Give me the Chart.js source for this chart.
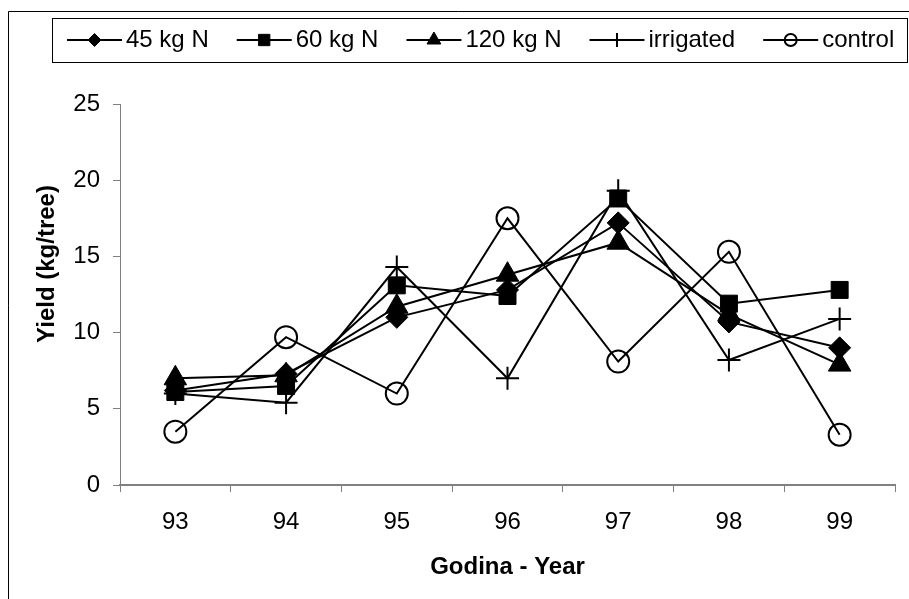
<!DOCTYPE html>
<html>
<head>
<meta charset="utf-8">
<script src="https://cdn.jsdelivr.net/npm/chart.js@4/dist/chart.umd.min.js"></script>
<style>
  html, body { margin: 0; padding: 0; background: #fff; }
  #wrap { width: 909px; height: 599px; }
</style>
</head>
<body>
<div id="wrap"><canvas id="myChart" width="909" height="599"></canvas></div>
<script>
// donnees
var YEARS = ['93', '94', '95', '96', '97', '98', '99'];
var N45 = [6.2, 7.3, 11.0, 12.8, 17.2, 10.7, 9.0];
var N60 = [6.1, 6.5, 13.1, 12.4, 18.8, 11.9, 12.8];
var N120 = [7.0, 7.2, 11.7, 13.8, 15.9, 11.2, 7.9];
var IRRIGATED = [6.0, 5.4, 14.3, 7.0, 19.3, 8.2, 10.9];
var CONTROL = [3.5, 9.7, 6.0, 17.5, 8.1, 15.3, 3.3];
var Y_TICKS = [0, 5, 10, 15, 20, 25];

var FONT = 'Liberation Sans, Arial, sans-serif';

function serie(label, data, style, radius, legendRadius) {
  return {
    label: label,
    data: data,
    borderColor: '#000',
    borderWidth: 2,
    pointStyle: style,
    pointRadius: radius,
    pointHoverRadius: radius,
    pointBackgroundColor: style == 'circle' ? 'rgba(0,0,0,0)' : '#000',
    pointBorderColor: '#000',
    pointBorderWidth: (style == 'circle' || style == 'cross') ? 2 : 1,
    legendRadius: legendRadius,
    tension: 0,
    fill: false
  };
}

// cadre, legende et titres des axes
var decor = {
  id: 'decor',
  beforeDraw: function(chart) {
    var ctx = chart.ctx;
    ctx.save();
    ctx.fillStyle = '#fff';
    ctx.fillRect(0, 0, chart.width, chart.height);
    ctx.restore();
  },
  afterDraw: function(chart) {
    var ctx = chart.ctx;
    ctx.save();
    // cadre exterieur
    ctx.strokeStyle = '#000';
    ctx.lineWidth = 1;
    ctx.beginPath();
    ctx.moveTo(8.5, 599);
    ctx.lineTo(8.5, 11.5);
    ctx.lineTo(909, 11.5);
    ctx.stroke();
    // boite de legende
    ctx.strokeRect(52.5, 18.5, 855, 44);

    ctx.font = '24px ' + FONT;
    ctx.textBaseline = 'middle';
    ctx.fillStyle = '#000';
    var x = 67, y = 40;
    chart.data.datasets.forEach(function(ds) {
      ctx.strokeStyle = '#000';
      ctx.lineWidth = 2;
      ctx.beginPath();
      ctx.moveTo(x, y);
      ctx.lineTo(x + 55, y);
      ctx.stroke();
      ctx.fillStyle = ds.pointBackgroundColor;
      ctx.lineWidth = ds.pointBorderWidth;
      Chart.helpers.drawPoint(ctx, { pointStyle: ds.pointStyle, radius: ds.legendRadius, borderWidth: ds.pointBorderWidth, rotation: 0 }, x + 27.5, y);
      ctx.fillStyle = '#000';
      ctx.textAlign = 'left';
      ctx.fillText(ds.label, x + 59, y);
      x += 59 + ctx.measureText(ds.label).width + 28;
    });

    // titres des axes
    ctx.font = 'bold 24px ' + FONT;
    ctx.textAlign = 'center';
    ctx.fillText('Godina - Year', (chart.chartArea.left + chart.chartArea.right) / 2, 567);
    ctx.translate(47, 264);
    ctx.rotate(-Math.PI / 2);
    ctx.fillText('Yield (kg/tree)', 0, 0);
    ctx.restore();
  }
};

var graphic = document.getElementById('myChart').getContext('2d');
var chart = new Chart(graphic, {
  type: 'line',
  data: {
    labels: YEARS,
    datasets: [
      serie('45 kg N', N45, 'rectRot', 11, 6.5),
      serie('60 kg N', N60, 'rect', 12, 8),
      serie('120 kg N', N120, 'triangle', 13, 8),
      serie('irrigated', IRRIGATED, 'cross', 11.5, 7),
      serie('control', CONTROL, 'circle', 11, 6)
    ]
  },
  options: {
    responsive: false,
    animation: false,
    events: [],
    layout: { padding: { left: 0, top: 104, right: 5, bottom: 0 } },
    plugins: {
      legend: { display: false },
      tooltip: { enabled: false }
    },
    scales: {
      x: {
        offset: true,
        grid: { display: true, offset: true, drawOnChartArea: false, drawTicks: true, tickLength: 7, color: '#808080', lineWidth: 1 },
        border: { display: true, color: '#808080', width: 2 },
        ticks: { color: '#000', padding: 16, font: { family: FONT, size: 24 }, maxRotation: 0 },
        afterFit: function(scale) { scale.height = 114; }
      },
      y: {
        min: 0,
        max: 25,
        afterBuildTicks: function(scale) {
          scale.ticks = Y_TICKS.map(function(v) { return { value: v }; });
        },
        grid: { display: true, drawOnChartArea: false, drawTicks: true, tickLength: 7, color: '#808080', lineWidth: 1 },
        border: { display: true, color: '#808080', width: 1 },
        ticks: { color: '#000', padding: 13, font: { family: FONT, size: 24 } },
        afterFit: function(scale) { scale.width = 120; }
      }
    }
  },
  plugins: [decor]
});
</script>
</body>
</html>
